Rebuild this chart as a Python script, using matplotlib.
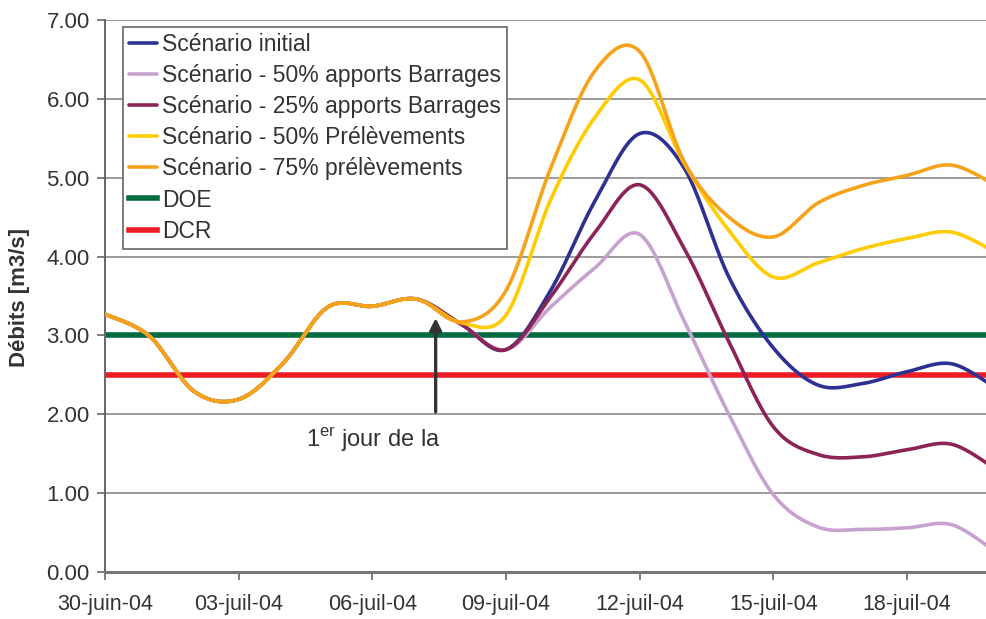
import numpy as np
import matplotlib
matplotlib.use("Agg")
import matplotlib.pyplot as plt

# ---------------- data (daily values, day 0 = 30-juin-04) ----------------
days = list(range(21))
common = [3.27, 2.99, 2.29, 2.19, 2.65, 3.36, 3.37, 3.46]

initial   = common + [3.14, 2.82, 3.57, 4.71, 5.56, 5.12, 3.74, 2.84, 2.37, 2.39, 2.54, 2.64, 2.33]
barr50    = common + [3.14, 2.82, 3.36, 3.86, 4.28, 3.18, 2.00, 0.98, 0.57, 0.54, 0.56, 0.60, 0.25]
barr25    = common + [3.14, 2.82, 3.49, 4.31, 4.91, 4.10, 2.92, 1.84, 1.49, 1.46, 1.55, 1.62, 1.30]
prel50    = common + [3.16, 3.26, 4.72, 5.77, 6.24, 5.18, 4.33, 3.74, 3.92, 4.10, 4.23, 4.31, 4.05]
prel75    = common + [3.17, 3.57, 5.12, 6.36, 6.60, 5.20, 4.50, 4.25, 4.68, 4.90, 5.03, 5.16, 4.90]
doe_value = 3.0
dcr_value = 2.5

series_names = ["Scénario initial", "Scénario - 50% apports Barrages",
                "Scénario - 25% apports Barrages", "Scénario - 50% Prélèvements",
                "Scénario - 75% prélèvements"]
series_vals = [initial, barr50, barr25, prel50, prel75]
series_colors = ["#2e3192", "#c8a2cf", "#8c2458", "#ffcc00", "#f7a21b"]

tick_days = [0, 3, 6, 9, 12, 15, 18]
tick_labels = ["30-juin-04", "03-juil-04", "06-juil-04", "09-juil-04",
               "12-juil-04", "15-juil-04", "18-juil-04"]
ytick_vals = [0, 1, 2, 3, 4, 5, 6, 7]
ytick_labels = ["0.00", "1.00", "2.00", "3.00", "4.00", "5.00", "6.00", "7.00"]

annot_day = 7.42
annot_text = "1$^{\\mathrm{er}}$ jour de la"


def smooth(x, y, n=40):
    """Bezier (Catmull-Rom) curve through the points, like a spreadsheet smoothed line."""
    x = np.asarray(x, float)
    y = np.asarray(y, float)
    px = np.concatenate([[x[0]], x, [x[-1]]])
    py = np.concatenate([[y[0]], y, [y[-1]]])
    xs, ys = [], []
    t = np.linspace(0, 1, n, endpoint=False)
    for i in range(1, len(px) - 2):
        p0x, p1x, p2x, p3x = px[i - 1], px[i], px[i + 1], px[i + 2]
        p0y, p1y, p2y, p3y = py[i - 1], py[i], py[i + 1], py[i + 2]
        c1x = p1x + (p2x - p0x) / 6
        c2x = p2x - (p3x - p1x) / 6
        c1y = p1y + (p2y - p0y) / 6
        c2y = p2y - (p3y - p1y) / 6
        b0 = (1 - t) ** 3
        b1 = 3 * (1 - t) ** 2 * t
        b2 = 3 * (1 - t) * t ** 2
        b3 = t ** 3
        xs.append(b0 * p1x + b1 * c1x + b2 * c2x + b3 * p2x)
        ys.append(b0 * p1y + b1 * c1y + b2 * c2y + b3 * p2y)
    xs.append([x[-1]])
    ys.append([y[-1]])
    return np.concatenate(xs), np.concatenate(ys)


plt.rcParams['font.family'] = ['Liberation Sans', 'DejaVu Sans']
plt.rcParams['mathtext.fontset'] = 'custom'
plt.rcParams['mathtext.rm'] = 'Liberation Sans'

W, H = 986, 619
fig = plt.figure(figsize=(W / 100, H / 100), dpi=100)
ax = fig.add_axes([105 / W, 1 - 572 / H, (986 - 105) / W, (572 - 20) / H])

for v in ytick_vals[1:]:
    ax.axhline(v, color="#808080", lw=1.1, zorder=1)

ax.axhline(doe_value, color="#006b3f", lw=4, zorder=2, label="DOE")
ax.axhline(dcr_value, color="#ed1c24", lw=4, zorder=2, label="DCR")

for name, vals, col in zip(series_names, series_vals, series_colors):
    sx, sy = smooth(days, vals)
    ax.plot(sx, sy, color=col, lw=2.6, label=name, zorder=3, solid_capstyle="round")

handles, labels = ax.get_legend_handles_labels()
order = [labels.index(n) for n in series_names + ["DOE", "DCR"]]
leg = ax.legend([handles[i] for i in order], [labels[i] for i in order],
                loc="upper left", bbox_to_anchor=(18 / 881, 1 - 7 / 552),
                borderaxespad=0, fancybox=False, framealpha=1,
                edgecolor="#666666", fontsize=16.5, handlelength=1.2,
                handletextpad=0.22, labelspacing=0.35, borderpad=0.28)
leg.get_frame().set_linewidth(1.2)
for t in leg.get_texts():
    t.set_color("#333333")

ax.annotate("", xy=(annot_day, 3.22), xytext=(annot_day, 2.03),
            arrowprops=dict(arrowstyle="-|>", color="#333333", lw=2.4,
                            mutation_scale=18, shrinkA=0, shrinkB=0),
            zorder=5)
ax.text(annot_day - 1.4, 1.68, annot_text, fontsize=17, color="#333333",
        ha="center", va="center")

ax.set_xlim(0, 19.77)
ax.set_ylim(0, 7)
ax.set_xticks(tick_days)
ax.set_xticklabels(tick_labels, fontsize=15.5, color="#333333")
ax.set_yticks(ytick_vals)
ax.set_yticklabels(ytick_labels, fontsize=16, color="#333333")
ax.tick_params(axis="both", direction="out", length=6, width=1.2, color="#666666")
ax.tick_params(axis="x", pad=10)
ax.tick_params(axis="y", pad=5)

for s in ["top", "right"]:
    ax.spines[s].set_visible(False)
ax.spines["left"].set_color("#666666")
ax.spines["left"].set_linewidth(1.4)
ax.spines["bottom"].set_color("#777777")
ax.spines["bottom"].set_linewidth(2.2)

fig.text(20 / W, 1 - 298 / H, "Débits [m3/s]", rotation=90, fontsize=16,
         fontweight="bold", color="#333333", ha="center", va="center")

fig.savefig("out.png", dpi=100)
